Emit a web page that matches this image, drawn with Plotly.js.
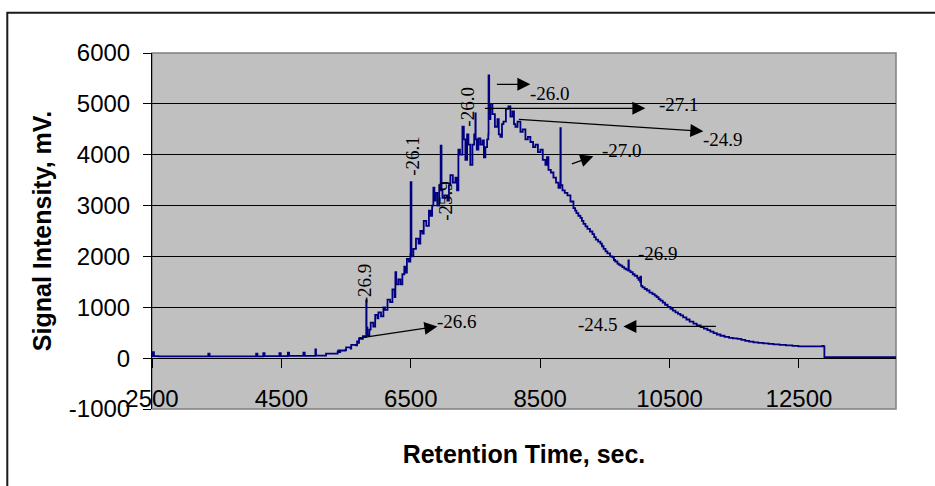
<!DOCTYPE html>
<html>
<head>
<meta charset="utf-8">
<script src="https://cdn.plot.ly/plotly-3.0.1.min.js"></script>
<style>
  html, body { margin: 0; padding: 0; background: #ffffff; }
  #chart { width: 935px; height: 486px; }
</style>
</head>
<body>
<div id="chart"></div>
<script>
// Retention time (s) of chromatogram samples
const retentionTime = [
  2500, 2510, 2530, 2600, 3000, 3360, 3370, 3390, 3800, 4100,
  4110, 4130, 4210, 4220, 4240, 4460, 4470, 4490, 4590, 4600,
  4620, 4830, 4840, 4860, 5020, 5025, 5035, 5180, 5190, 5360,
  5370, 5380, 5390, 5410, 5490, 5500, 5570, 5580, 5650, 5670,
  5680, 5700, 5720, 5760, 5800, 5812, 5816, 5830, 5860, 5880,
  5920, 5950, 5985, 6000, 6040, 6077, 6100, 6140, 6180, 6216,
  6250, 6262, 6275, 6308, 6340, 6370, 6400, 6416, 6440, 6470,
  6494, 6498, 6510, 6540, 6580, 6620, 6648, 6680, 6700, 6740,
  6780, 6803, 6830, 6849, 6865, 6880, 6910, 6940, 6958, 6962,
  6975, 6990, 7020, 7066, 7090, 7112, 7150, 7190, 7215, 7236,
  7260, 7298, 7320, 7344, 7370, 7391, 7420, 7453, 7480, 7499,
  7503, 7520, 7545, 7575, 7607, 7630, 7653, 7680, 7698, 7702,
  7712, 7731, 7762, 7800, 7839, 7860, 7885, 7910, 7932, 7970,
  8009, 8040, 8071, 8095, 8117, 8150, 8195, 8230, 8272, 8310,
  8349, 8390, 8427, 8465, 8504, 8540, 8581, 8605, 8628, 8665,
  8705, 8745, 8782, 8810, 8813, 8818, 8844, 8880, 8921, 8968,
  9014, 9040, 9060, 9090, 9122, 9145, 9169, 9200, 9230, 9270,
  9308, 9335, 9360, 9395, 9431, 9455, 9480, 9510, 9539, 9580,
  9616, 9640, 9660, 9694, 9715, 9740, 9770, 9800, 9830, 9860,
  9864, 9870, 9895, 9930, 9960, 10000, 10020, 10045, 10049, 10060,
  10080, 10115, 10150, 10190, 10235, 10270, 10300, 10330, 10359, 10395,
  10430, 10470, 10513, 10550, 10590, 10630, 10668, 10710, 10760, 10810,
  10869, 10920, 10980, 11030, 11085, 11130, 11180, 11230, 11286, 11350,
  11420, 11480, 11549, 11610, 11670, 11730, 11796, 11870, 11950, 12030,
  12105, 12200, 12300, 12400, 12491, 12600, 12700, 12862, 12880, 12893,
  13200, 13600, 14000
];
// Signal intensity (mV)
const signalMv = [
  40, 120, 40, 35, 35, 35, 90, 35, 35, 35,
  90, 35, 35, 100, 40, 40, 100, 40, 40, 110,
  45, 45, 110, 45, 45, 170, 50, 50, 90, 90,
  130, 150, 120, 150, 160, 210, 190, 260, 250, 330,
  300, 390, 380, 430, 420, 1130, 600, 450, 560, 700,
  620, 850, 780, 900, 820, 1000, 950, 1150, 1100, 1350,
  1200, 1690, 1450, 1550, 1450, 1650, 1800, 1680, 1950, 1900,
  2050, 3460, 2000, 2150, 2350, 2250, 2500, 2450, 2700, 2600,
  2900, 2800, 3000, 3350, 3100, 3250, 3000, 3400, 3300, 4180,
  3300, 3150, 3200, 3100, 3400, 3600, 3450, 3550, 3300, 4100,
  4000, 4550, 4300, 3900, 4400, 4200, 3800, 4200, 4400, 4810,
  4300, 4100, 4320, 4200, 4280, 3950, 4150, 4300, 4400, 5560,
  4700, 5000, 4800, 4550, 4700, 4400, 4350, 4600, 4650, 4900,
  4950, 4750, 4850, 4600, 4550, 4650, 4450, 4500, 4300, 4350,
  4250, 4150, 4200, 4050, 4100, 3900, 3800, 3950, 3700, 3650,
  3550, 3450, 3350, 3400, 4520, 3400, 3300, 3250, 3200, 3080,
  2950, 2900, 2850, 2800, 2760, 2700, 2640, 2590, 2540, 2490,
  2440, 2380, 2330, 2290, 2250, 2200, 2150, 2100, 2060, 2000,
  1980, 1930, 1900, 1860, 1840, 1820, 1790, 1760, 1740, 1720,
  1920, 1720, 1690, 1650, 1620, 1580, 1540, 1500, 1600, 1420,
  1390, 1360, 1330, 1290, 1260, 1230, 1200, 1160, 1130, 1090,
  1050, 1010, 970, 935, 900, 870, 840, 800, 760, 720,
  680, 645, 610, 580, 550, 520, 490, 465, 440, 420,
  400, 390, 380, 360, 340, 325, 310, 300, 290, 280,
  270, 260, 250, 240, 230, 230, 230, 240, 230, 20,
  20, 20, 20
];

// Isotope (delta 13C) labels
const arrowLabels = ["-26.0", "-27.1", "-24.9", "-27.0", "-24.5", "-26.6"];
const plainLabels = ["-26.9"];
const verticalLabels = ["-26.9", "-26.1", "-25.9", "-26.0"];

const xTickVals = [2500, 4500, 6500, 8500, 10500, 12500];
const yTickVals = [-1000, 0, 1000, 2000, 3000, 4000, 5000, 6000];

const SANS = "Arial, 'Liberation Sans', sans-serif";
const SERIF = "'Times New Roman', 'Liberation Serif', serif";

// arrows: tip position (data) + tail offset (px); text position (data)
const arrowSpecs = [
  {tx: 8349, ty: 5385, ax: -35, ay: 0,   lx: 8658,  ly: 5208},
  {tx: 10126, ty: 4912, ax: -162, ay: 0, lx: 10651, ly: 4991},
  {tx: 11022, ty: 4460, ax: -186, ay: -12, lx: 11332, ly: 4303},
  {tx: 9322, ty: 3968, ax: -23, ay: 8,   lx: 9771,  ly: 4086},
  {tx: 9786, ty: 624, ax: 94, ay: 0,     lx: 9400,  ly: 663},
  {tx: 6911, ty: 624, ax: -80, ay: 12,   lx: 7220,  ly: 722}
];
const plainPos = [{lx: 10327, ly: 2060}];
const verticalPos = [
  {lx: 5783, ly: 1480},
  {lx: 6525, ly: 3988},
  {lx: 7035, ly: 3103},
  {lx: 7375, ly: 4952}
];

const annotations = [];
arrowSpecs.forEach((s, i) => {
  annotations.push({
    xref: 'x', yref: 'y', x: s.tx, y: s.ty, ax: s.ax, ay: s.ay,
    text: '', showarrow: true, arrowhead: 2, arrowsize: 2, arrowwidth: 1.3,
    arrowcolor: '#000', standoff: 0, startstandoff: 0
  });
  annotations.push({
    xref: 'x', yref: 'y', x: s.lx, y: s.ly, text: arrowLabels[i], showarrow: false,
    font: {family: SERIF, size: 19, color: '#000'}
  });
});
plainPos.forEach((p, i) => {
  annotations.push({
    xref: 'x', yref: 'y', x: p.lx, y: p.ly, text: plainLabels[i], showarrow: false,
    font: {family: SERIF, size: 19, color: '#000'}
  });
});
verticalPos.forEach((p, i) => {
  annotations.push({
    xref: 'x', yref: 'y', x: p.lx, y: p.ly, text: verticalLabels[i], showarrow: false,
    textangle: -90, font: {family: SERIF, size: 19, color: '#000'}
  });
});

const trace = {
  type: 'scatter', mode: 'lines',
  x: retentionTime, y: signalMv,
  line: {color: '#000080', width: 1.8, shape: 'hv'},
  hoverinfo: 'x+y', cliponaxis: true
};

const layout = {
  width: 935, height: 486,
  margin: {l: 152, r: 39, t: 53, b: 77, pad: 0},
  paper_bgcolor: '#ffffff',
  plot_bgcolor: '#c0c0c0',
  showlegend: false,
  xaxis: {
    range: [2500, 14000],
    tickvals: xTickVals,
    ticktext: xTickVals.map(String),
    anchor: 'free', position: 1/7,
    showgrid: false, zeroline: false,
    showline: true, linecolor: '#000', linewidth: 1,
    ticks: 'outside', ticklen: 9, tickcolor: '#000', tickwidth: 1,
    ticklabelstandoff: 10,
    tickfont: {family: SANS, size: 24, color: '#000'},
    title: {text: 'Retention Time, sec.', standoff: 34,
            font: {family: SANS, size: 25, color: '#000', weight: 'bold'}}
  },
  yaxis: {
    range: [-1000, 6000],
    tickvals: yTickVals,
    ticktext: yTickVals.map(String),
    showgrid: true, gridcolor: '#000', gridwidth: 1,
    zeroline: false,
    showline: true, linecolor: '#000', linewidth: 1,
    ticks: 'outside', ticklen: 8, tickcolor: '#000', tickwidth: 1,
    ticklabelstandoff: 8,
    tickfont: {family: SANS, size: 24, color: '#000'},
    title: {text: 'Signal Intensity, mV.', standoff: 10,
            font: {family: SANS, size: 25, color: '#000', weight: 'bold'}}
  },
  shapes: [
    {type: 'rect', xref: 'paper', yref: 'paper', x0: 0, x1: 1, y0: 0, y1: 1,
     line: {color: '#808080', width: 1.5}, layer: 'below'},
    {type: 'rect', xref: 'paper', yref: 'paper', x0: -0.1945, x1: 1.2, y0: -0.4, y1: 1.1132,
     line: {color: '#1a1a1a', width: 2}, layer: 'above'}
  ],
  annotations: annotations
};

Plotly.newPlot('chart', [trace], layout, {staticPlot: true, displayModeBar: false});
</script>
</body>
</html>
